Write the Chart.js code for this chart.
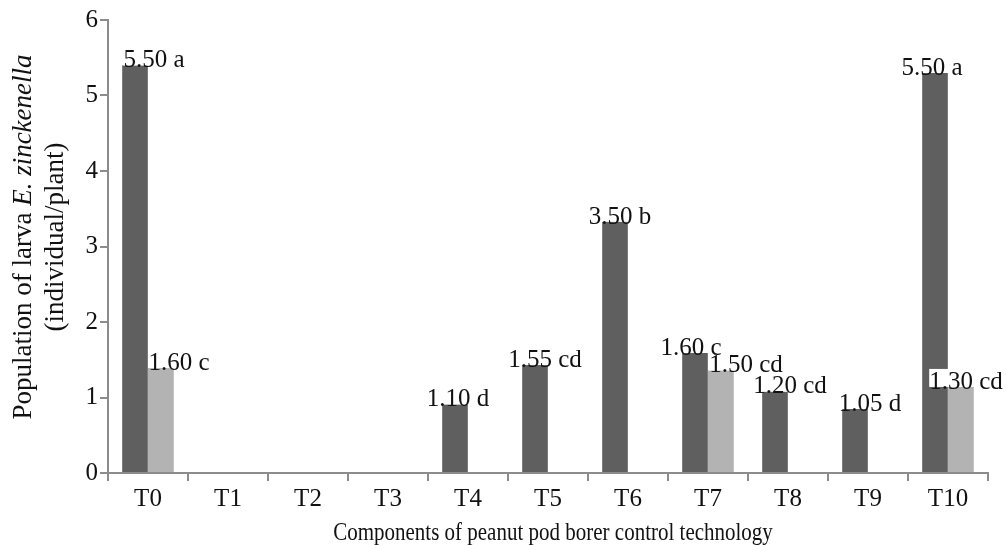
<!DOCTYPE html>
<html>
<head>
<meta charset="utf-8">
<script src="https://cdn.jsdelivr.net/npm/chart.js@4.4.1/dist/chart.umd.min.js"></script>
<style>
  html, body { margin: 0; padding: 0; background: #fff; }
  #wrap { width: 1006px; height: 545px; }
</style>
</head>
<body>
<div id="wrap"><canvas id="larvaChart"></canvas></div>
<script>
// treatments on the x axis
const categories = ['T0', 'T1', 'T2', 'T3', 'T4', 'T5', 'T6', 'T7', 'T8', 'T9', 'T10'];
// bar heights as drawn (dark and light series)
const darkValues = [5.40, null, null, null, 0.91, 1.43, 3.33, 1.59, 1.08, 0.85, 5.30];
const lightValues = [1.39, null, null, null, null, null, null, 1.36, null, null, 1.14];
// printed labels above the bars
const darkLabels = ['5.50 a', '', '', '', '1.10 d', '1.55 cd', '3.50 b', '1.60 c', '1.20 cd', '1.05 d', '5.50 a'];
const lightLabels = ['1.60 c', '', '', '', '', '', '', '1.50 cd', '', '', '1.30 cd'];
const yTicks = [0, 1, 2, 3, 4, 5, 6];
const xTitle = 'Components of peanut pod borer control technology';

// small horizontal nudges of the labels, like in the original figure
const darkNudge = [19, 0, 0, 0, 3, 10, 5, -4, 15, 15, -3];
const lightNudge = [18, 0, 0, 0, 0, 0, 0, 25, 0, 0, 5];

const serif = '"Liberation Serif", "Times New Roman", serif';
const axisGrey = '#8c8c8c';

const barLabels = {
  id: 'barLabels',
  afterDatasetsDraw(chart) {
    const ctx = chart.ctx;
    const sets = [
      { meta: chart.getDatasetMeta(0), labels: darkLabels, nudge: darkNudge },
      { meta: chart.getDatasetMeta(1), labels: lightLabels, nudge: lightNudge }
    ];
    ctx.save();
    ctx.font = '25px ' + serif;
    const items = [];
    sets.forEach(s => {
      s.meta.data.forEach((bar, i) => {
        const txt = s.labels[i];
        if (!txt) return;
        const w = ctx.measureText(txt).width;
        items.push({ txt, x: bar.x + s.nudge[i] - w / 2, y: bar.y, w });
      });
    });
    // white boxes first, then the text
    ctx.fillStyle = '#fff';
    items.forEach(it => ctx.fillRect(it.x, it.y - 18, it.w, 18));
    ctx.fillStyle = '#111';
    ctx.textBaseline = 'alphabetic';
    items.forEach(it => ctx.fillText(it.txt, it.x, it.y + 2));
    ctx.restore();
  }
};

const axisTitles = {
  id: 'axisTitles',
  afterDraw(chart) {
    const ctx = chart.ctx;
    const area = chart.chartArea;

    // y title, rotated, two lines
    ctx.save();
    ctx.fillStyle = '#111';
    ctx.textBaseline = 'middle';
    ctx.translate(24, 237);
    ctx.rotate(-Math.PI / 2);
    const part1 = 'Population of larva ';
    const part2 = 'E. zinckenella';
    ctx.font = '27px ' + serif;
    const w1 = ctx.measureText(part1).width;
    ctx.font = 'italic 27px ' + serif;
    const w2 = ctx.measureText(part2).width;
    const x = -(w1 + w2) / 2;
    ctx.font = '27px ' + serif;
    ctx.fillText(part1, x, 0);
    ctx.font = 'italic 27px ' + serif;
    ctx.fillText(part2, x + w1, 0);
    ctx.font = '27px ' + serif;
    ctx.textAlign = 'center';
    ctx.fillText('(individual/plant)', 0, 32);
    ctx.restore();

    // x title, a bit taller than wide as in the original
    ctx.save();
    ctx.fillStyle = '#111';
    ctx.textAlign = 'center';
    ctx.textBaseline = 'middle';
    ctx.translate((area.left + area.right) / 2 + 5, 533);
    ctx.scale(1, 1.2);
    ctx.font = '21px ' + serif;
    ctx.fillText(xTitle, 0, 0);
    ctx.restore();
  }
};

const ctx = document.getElementById('larvaChart');

const data = {
  labels: categories,
  datasets: [{
    label: 'dark',
    data: darkValues,
    backgroundColor: '#5f5f5f',
    borderColor: '#7d7d7d',
    borderWidth: { left: 1, right: 1, top: 0, bottom: 0 },
    categoryPercentage: 0.65,
    barPercentage: 1.0
  }, {
    label: 'light',
    data: lightValues,
    backgroundColor: '#b3b3b3',
    borderColor: '#c4c4c4',
    borderWidth: { left: 0, right: 1, top: 0, bottom: 0 },
    categoryPercentage: 0.65,
    barPercentage: 1.0
  }]
};

const config = {
  type: 'bar',
  data: data,
  options: {
    responsive: true,
    maintainAspectRatio: false,
    animation: false,
    layout: { padding: { top: 20, right: 18, left: 0, bottom: 0 } },
    plugins: {
      legend: { display: false },
      tooltip: { enabled: false }
    },
    scales: {
      x: {
        grid: { display: true, drawOnChartArea: false, drawTicks: true, tickLength: 8, color: axisGrey, lineWidth: 2 },
        border: { display: true, color: axisGrey, width: 2 },
        ticks: { color: '#111', font: { family: serif, size: 25 }, padding: 3 },
        afterFit(scale) { scale.height = 72; }
      },
      y: {
        min: 0,
        max: 6,
        grid: { display: true, drawOnChartArea: false, drawTicks: true, tickLength: 8, color: axisGrey, lineWidth: 2 },
        border: { display: true, color: axisGrey, width: 2 },
        afterBuildTicks(scale) { scale.ticks = yTicks.map(v => ({ value: v })); },
        ticks: { color: '#111', font: { family: serif, size: 25 }, padding: 2 },
        afterFit(scale) { scale.width = 108; }
      }
    }
  },
  plugins: [barLabels, axisTitles]
};

const larvaChart = new Chart(ctx, config);
</script>
</body>
</html>
